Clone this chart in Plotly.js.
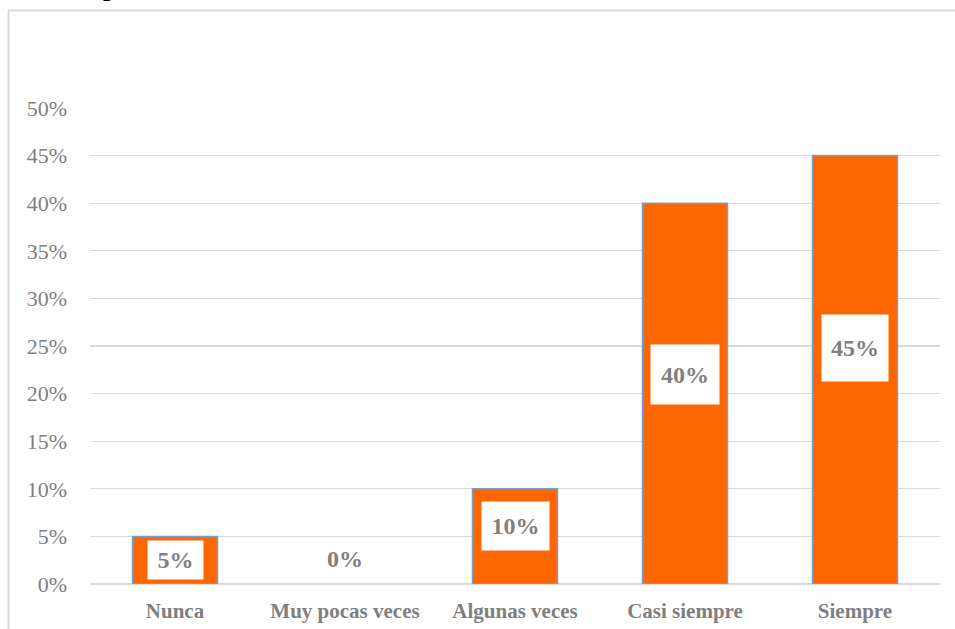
<!DOCTYPE html>
<html>
<head>
<meta charset="utf-8">
<script src="https://cdn.plot.ly/plotly-3.0.1.min.js"></script>
<style>html,body{margin:0;padding:0;background:#fff;}#chart{width:955px;height:629px;}</style>
</head>
<body>
<div id="chart"></div>
<script>
const categories = ["Nunca", "Muy pocas veces", "Algunas veces", "Casi siempre", "Siempre"];
const values = [0.05, 0.00, 0.10, 0.40, 0.45];
const labels = ["5%", "0%", "10%", "40%", "45%"];
const yTickVals = [0, 0.05, 0.10, 0.15, 0.20, 0.25, 0.30, 0.35, 0.40, 0.45, 0.50];
const yTickText = ["0%", "5%", "10%", "15%", "20%", "25%", "30%", "35%", "40%", "45%", "50%"];

const W = 955, H = 629;
const m = {l: 90, r: 15, t: 108, b: 45};
const pw = W - m.l - m.r, ph = H - m.t - m.b;
const px = p => (p - m.l) / pw;
const py = p => (H - m.b - p) / ph;

// label box sizes (layout styling)
const boxH = [36, 30, 46, 57, 64];
const boxW = [53, 60, 65, 66, 64];
const labelPos = [0.5, 0.5, 0.61, 0.55, 0.55];

const annotations = categories.map((c, i) => ({
  x: c, y: values[i] > 0 ? values[i] * labelPos[i] : 0.026,
  xref: "x", yref: "y",
  text: "<b>" + labels[i] + "</b>",
  showarrow: false,
  font: {family: "Liberation Serif", size: 24, color: "#7F7F7F"},
  bgcolor: values[i] > 0 ? "#FFFFFF" : "rgba(0,0,0,0)",
  width: boxW[i], height: boxH[i],
  valign: "middle", align: "center"
}));
annotations.push({
  x: px(101), y: py(4), xref: "paper", yref: "paper",
  xanchor: "left", yanchor: "bottom",
  text: "<b>p</b>", showarrow: false,
  font: {family: "Liberation Serif", size: 26, color: "#000000"}
});

const trace = {
  type: "bar",
  x: categories,
  y: values,
  marker: {color: "#FF6600", line: {color: "#6FA0D8", width: values.map(v => v > 0 ? 1.5 : 0)}},
  hoverinfo: "none"
};

const layout = {
  width: W, height: H,
  margin: m,
  paper_bgcolor: "#FFFFFF",
  plot_bgcolor: "#FFFFFF",
  bargap: 0.5,
  showlegend: false,
  font: {family: "Liberation Serif", color: "#7F7F7F"},
  xaxis: {
    type: "category",
    tickfont: {family: "Liberation Serif", size: 21, color: "#7F7F7F", weight: "bold"},
    showgrid: false, zeroline: false,
    showline: false, ticks: "", ticklabelstandoff: 12
  },
  yaxis: {
    range: [0, 0.5],
    tickvals: yTickVals, ticktext: yTickText,
    tickfont: {family: "Liberation Serif", size: 22, color: "#7F7F7F"},
    showgrid: true, gridcolor: "#D9D9D9", gridwidth: 1.3,
    zeroline: true, zerolinecolor: "#D9D9D9", zerolinewidth: 1.3,
    showline: false, ticks: "", ticklabelstandoff: 22
  },
  annotations: annotations,
  shapes: [{
    type: "rect", xref: "paper", yref: "paper",
    x0: px(8.5), x1: px(980), y0: py(660), y1: py(10.5),
    line: {color: "#D9D9D9", width: 2}, fillcolor: "rgba(0,0,0,0)", layer: "below"
  }]
};

Plotly.newPlot("chart", [trace], layout, {displayModeBar: false, staticPlot: true});
</script>
</body>
</html>
